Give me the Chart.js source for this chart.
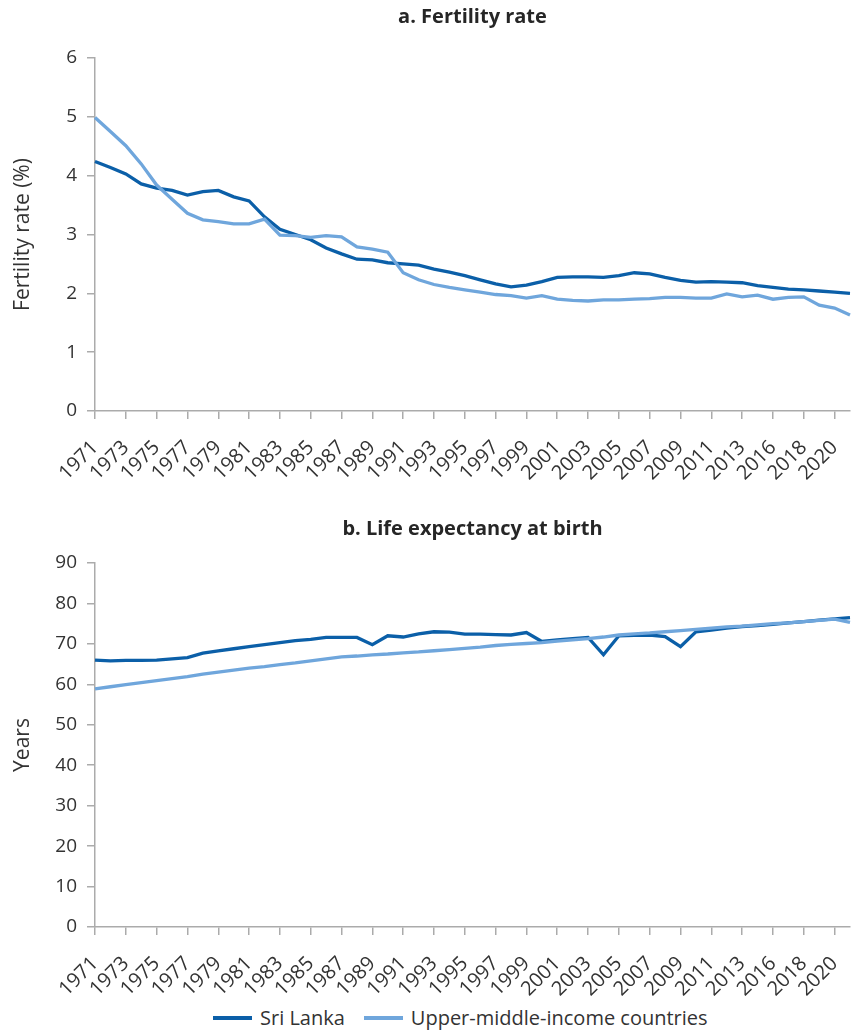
<!DOCTYPE html>
<html>
<head>
<meta charset="utf-8">
<title>Fertility and life expectancy: Sri Lanka and upper-middle-income countries</title>
<script src="https://cdn.jsdelivr.net/npm/chart.js@4/dist/chart.umd.min.js"></script>
<style>
  html, body { margin: 0; padding: 0; background: #fff; width: 853px; height: 1031px; overflow: hidden; }
  .panel { position: absolute; left: 0; width: 853px; }
  .panel-title {
    position: absolute; left: 95px; width: 755px; text-align: center;
    font: bold 20px/20px "Open Sans", sans-serif; color: #262626; z-index: 2;
  }
  #legend {
    position: absolute; left: 213px; top: 1006px; height: 24px;
    display: flex; align-items: center;
    font: 20px/24px "Open Sans", sans-serif; color: #333;
  }
  #legend .item { display: flex; align-items: center; margin-right: 19px; }
  #legend .swatch { width: 39px; height: 3.5px; margin-right: 8px; }
</style>
</head>
<body>
<div class="panel" style="top:0;height:480px"><canvas id="fertility"></canvas></div>
<div class="panel" style="top:494px;height:502px"><canvas id="lifeExp"></canvas></div>
<div class="panel-title" style="top:6px">a. Fertility rate</div>
<div class="panel-title" style="top:518px">b. Life expectancy at birth</div>
<div id="legend"></div>

<script>
// Years on the horizontal axis (2015 is not in the series)
const years = [
  '1971','1972','1973','1974','1975','1976','1977','1978','1979','1980',
  '1981','1982','1983','1984','1985','1986','1987','1988','1989','1990',
  '1991','1992','1993','1994','1995','1996','1997','1998','1999','2000',
  '2001','2002','2003','2004','2005','2006','2007','2008','2009','2010',
  '2011','2012','2013','2014','2016','2017','2018','2019','2020','2021'
];

// Panel a: fertility rate
const fertilitySriLanka = [
  4.24, 4.14, 4.03, 3.86, 3.79, 3.75, 3.67, 3.73, 3.75, 3.64,
  3.57, 3.30, 3.09, 3.00, 2.91, 2.77, 2.67, 2.58, 2.57, 2.52,
  2.50, 2.48, 2.41, 2.36, 2.30, 2.23, 2.16, 2.11, 2.14, 2.20,
  2.27, 2.28, 2.28, 2.27, 2.30, 2.35, 2.33, 2.27, 2.22, 2.19,
  2.20, 2.19, 2.18, 2.13, 2.10, 2.07, 2.06, 2.04, 2.02, 2.00
];
const fertilityUMIC = [
  4.99, 4.75, 4.51, 4.20, 3.84, 3.60, 3.36, 3.25, 3.22, 3.18,
  3.18, 3.26, 2.99, 2.98, 2.95, 2.98, 2.96, 2.79, 2.75, 2.70,
  2.35, 2.23, 2.15, 2.10, 2.06, 2.02, 1.98, 1.96, 1.92, 1.96,
  1.90, 1.88, 1.87, 1.89, 1.89, 1.90, 1.91, 1.93, 1.93, 1.92,
  1.92, 1.99, 1.94, 1.97, 1.90, 1.93, 1.94, 1.80, 1.75, 1.63
];

// Panel b: life expectancy at birth (years)
const lifeSriLanka = [
  66.0, 65.8, 65.9, 65.9, 66.0, 66.3, 66.6, 67.7, 68.3, 68.8,
  69.3, 69.8, 70.3, 70.8, 71.1, 71.6, 71.6, 71.6, 69.8, 72.0,
  71.7, 72.5, 73.0, 72.9, 72.4, 72.4, 72.3, 72.2, 72.8, 70.6,
  71.0, 71.3, 71.6, 67.3, 72.0, 72.1, 72.2, 71.8, 69.3, 73.0,
  73.4, 73.9, 74.3, 74.5, 74.8, 75.2, 75.5, 75.9, 76.2, 76.5
];
const lifeUMIC = [
  58.9, 59.4, 59.9, 60.4, 60.9, 61.4, 61.9, 62.5, 63.0, 63.5,
  64.0, 64.4, 64.9, 65.3, 65.8, 66.3, 66.8, 67.0, 67.3, 67.5,
  67.8, 68.0, 68.3, 68.6, 68.9, 69.2, 69.6, 69.9, 70.1, 70.3,
  70.7, 71.0, 71.3, 71.7, 72.2, 72.5, 72.7, 73.0, 73.3, 73.6,
  73.9, 74.2, 74.4, 74.7, 75.0, 75.2, 75.5, 75.8, 76.1, 75.3
];

const seriesNames = ['Sri Lanka', 'Upper-middle-income countries'];

const DARK_BLUE = '#0b5fa8';
const LIGHT_BLUE = '#6fa6dc';
const SERIES_COLORS = [DARK_BLUE, LIGHT_BLUE];
const AXIS_GREY = '#ababab';
const TEXT_COLOR = '#333333';
const FONT = "'Open Sans', sans-serif";
const LINE_WIDTH = 3.3;

Chart.defaults.font.family = FONT;
Chart.defaults.color = TEXT_COLOR;

function buildDatasets(sriLanka, umic) {
  return [
    { label: seriesNames[0], data: sriLanka, borderColor: SERIES_COLORS[0], backgroundColor: SERIES_COLORS[0], borderWidth: LINE_WIDTH, order: 1 },
    { label: seriesNames[1], data: umic, borderColor: SERIES_COLORS[1], backgroundColor: SERIES_COLORS[1], borderWidth: LINE_WIDTH, order: 0 }
  ];
}

function panelOptions(cfg) {
  return {
    responsive: true,
    maintainAspectRatio: false,
    animation: false,
    events: [],
    layout: { padding: { top: cfg.padTop, right: 3, bottom: 0, left: 0 } },
    elements: {
      point: { radius: 0, hoverRadius: 0 },
      line: { tension: 0, borderCapStyle: 'butt', borderJoinStyle: 'miter' }
    },
    plugins: {
      title: { display: false },
      tooltip: { enabled: false },
      legend: { display: false }
    },
    scales: {
      x: {
        offset: false,
        border: { display: true, color: AXIS_GREY, width: 1.5 },
        grid: {
          drawOnChartArea: false,
          drawTicks: true,
          tickLength: 8,
          lineWidth: 1.5,
          color: (c) => (c.index % 2 === 0 ? AXIS_GREY : 'rgba(0,0,0,0)')
        },
        ticks: {
          autoSkip: false,
          maxRotation: 45,
          minRotation: 45,
          padding: 17,
          color: TEXT_COLOR,
          font: { family: FONT, size: 20 },
          callback: function (value, index) {
            return index % 2 === 0 ? this.getLabelForValue(value) : '';
          }
        },
        afterFit: (scale) => {
          scale.height = cfg.xHeight;
          scale.paddingRight = 0;
        }
      },
      y: {
        min: cfg.yMin,
        max: cfg.yMax,
        border: { display: true, color: AXIS_GREY, width: 1.5 },
        grid: { drawOnChartArea: false, drawTicks: true, tickLength: 8, lineWidth: 1.5, color: AXIS_GREY },
        ticks: {
          stepSize: cfg.yStep,
          padding: 10,
          color: TEXT_COLOR,
          font: { family: FONT, size: 19 }
        },
        title: {
          display: true,
          text: cfg.yTitle,
          color: TEXT_COLOR,
          font: { family: FONT, size: 21 },
          padding: { top: 10, bottom: 0 }
        },
        afterFit: (scale) => { scale.width = 95; }
      }
    }
  };
}

new Chart(document.getElementById('fertility'), {
  type: 'line',
  data: { labels: years, datasets: buildDatasets(fertilitySriLanka, fertilityUMIC) },
  options: panelOptions({ padTop: 58, xHeight: 69, yMin: 0, yMax: 6, yStep: 1, yTitle: 'Fertility rate (%)' })
});

new Chart(document.getElementById('lifeExp'), {
  type: 'line',
  data: { labels: years, datasets: buildDatasets(lifeSriLanka, lifeUMIC) },
  options: panelOptions({ padTop: 69, xHeight: 69, yMin: 0, yMax: 90, yStep: 10, yTitle: 'Years' })
});

// Shared legend below the two panels
const legendEl = document.getElementById('legend');
seriesNames.forEach((name, i) => {
  const item = document.createElement('div');
  item.className = 'item';
  const sw = document.createElement('div');
  sw.className = 'swatch';
  sw.style.background = SERIES_COLORS[i];
  const label = document.createElement('span');
  label.textContent = name;
  item.appendChild(sw);
  item.appendChild(label);
  legendEl.appendChild(item);
});
</script>
</body>
</html>
